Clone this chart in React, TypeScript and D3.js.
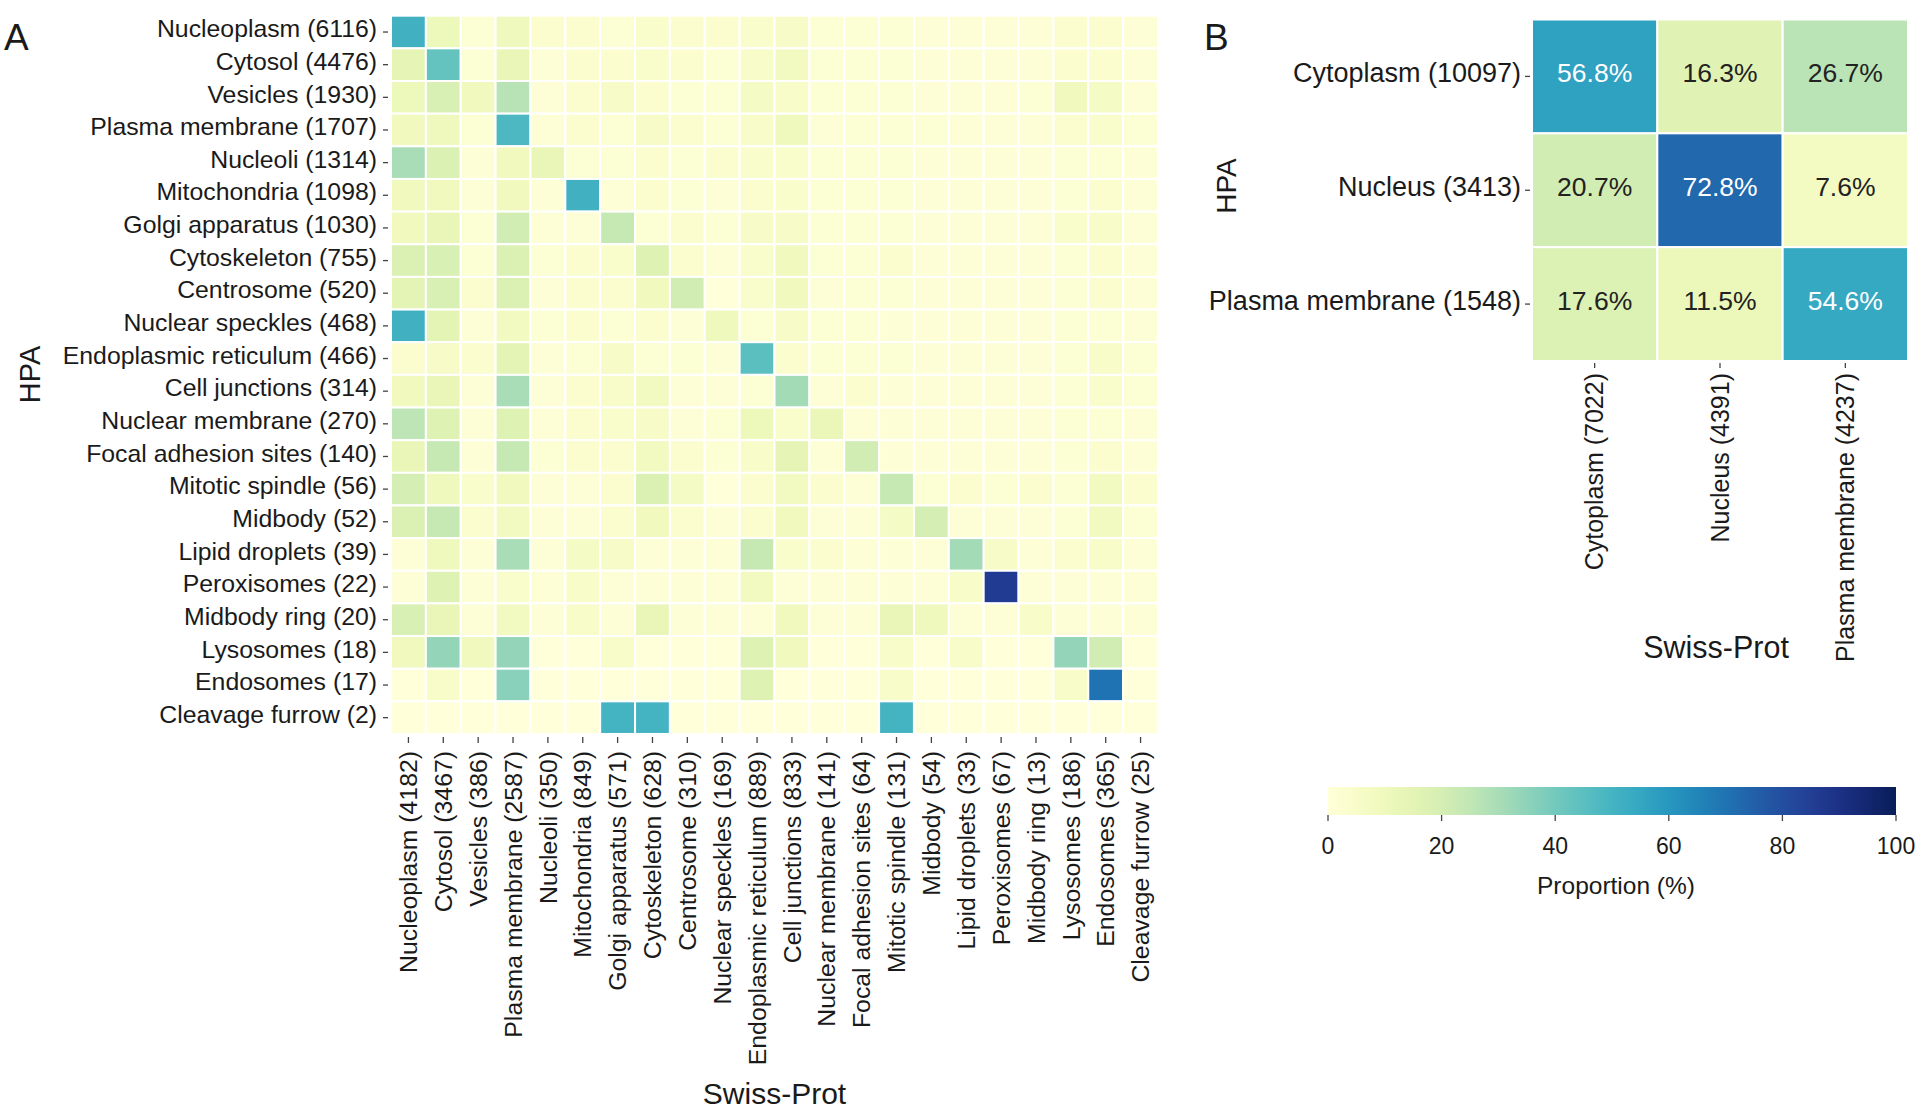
import React from 'react';
import * as d3 from 'd3';

const hpaRowsA = [
  'Nucleoplasm (6116)', 'Cytosol (4476)', 'Vesicles (1930)', 'Plasma membrane (1707)',
  'Nucleoli (1314)', 'Mitochondria (1098)', 'Golgi apparatus (1030)', 'Cytoskeleton (755)',
  'Centrosome (520)', 'Nuclear speckles (468)', 'Endoplasmic reticulum (466)', 'Cell junctions (314)',
  'Nuclear membrane (270)', 'Focal adhesion sites (140)', 'Mitotic spindle (56)', 'Midbody (52)',
  'Lipid droplets (39)', 'Peroxisomes (22)', 'Midbody ring (20)', 'Lysosomes (18)',
  'Endosomes (17)', 'Cleavage furrow (2)'
];

const swissColsA = [
  'Nucleoplasm (4182)', 'Cytosol (3467)', 'Vesicles (386)', 'Plasma membrane (2587)',
  'Nucleoli (350)', 'Mitochondria (849)', 'Golgi apparatus (571)', 'Cytoskeleton (628)',
  'Centrosome (310)', 'Nuclear speckles (169)', 'Endoplasmic reticulum (889)', 'Cell junctions (833)',
  'Nuclear membrane (141)', 'Focal adhesion sites (64)', 'Mitotic spindle (131)', 'Midbody (54)',
  'Lipid droplets (33)', 'Peroxisomes (67)', 'Midbody ring (13)', 'Lysosomes (186)',
  'Endosomes (365)', 'Cleavage furrow (25)'
];

// proportion (%) of HPA row proteins annotated with each Swiss-Prot column location
const proportionA = [
  [51, 11, 2, 10, 3, 3, 2, 4, 3, 3, 4, 6, 2, 2, 2, 1, 1, 1, 1, 3, 3, 1],
  [14, 43, 2, 13, 1, 3, 3, 4, 3, 2, 5, 8, 2, 2, 2, 1, 1, 1, 1, 3, 3, 1],
  [11, 19, 9, 27, 1, 3, 6, 3, 2, 2, 7, 5, 2, 2, 2, 1, 1, 1, 2, 9, 7, 1],
  [9, 10, 2, 48, 1, 3, 2, 6, 3, 2, 5, 10, 1, 2, 2, 2, 1, 1, 1, 3, 4, 2],
  [30, 18, 1, 9, 13, 2, 2, 3, 2, 3, 4, 4, 2, 2, 2, 1, 1, 1, 1, 2, 2, 1],
  [9, 9, 1, 9, 1, 51, 1, 3, 2, 1, 3, 4, 2, 2, 2, 1, 1, 1, 1, 2, 3, 1],
  [9, 13, 2, 21, 1, 1, 24, 2, 3, 2, 6, 6, 2, 2, 2, 1, 1, 1, 1, 4, 5, 1],
  [18, 19, 2, 18, 2, 3, 4, 17, 3, 1, 4, 9, 2, 2, 3, 1, 1, 1, 1, 2, 3, 1],
  [15, 19, 3, 18, 1, 3, 3, 9, 21, 0, 4, 9, 1, 2, 2, 1, 1, 1, 1, 2, 3, 1],
  [51, 15, 1, 8, 2, 3, 2, 3, 1, 10, 2, 6, 2, 2, 1, 1, 1, 1, 1, 2, 2, 1],
  [3, 6, 3, 15, 1, 2, 6, 2, 2, 1, 45, 3, 2, 2, 2, 1, 1, 1, 1, 2, 5, 2],
  [9, 13, 1, 30, 1, 3, 5, 8, 1, 1, 2, 31, 1, 3, 1, 1, 1, 1, 1, 2, 4, 2],
  [26, 17, 1, 17, 1, 3, 4, 6, 1, 2, 11, 4, 12, 1, 1, 1, 1, 1, 1, 2, 2, 1],
  [13, 24, 1, 24, 2, 3, 3, 8, 3, 2, 5, 14, 1, 21, 1, 1, 1, 1, 1, 2, 3, 1],
  [20, 10, 4, 9, 1, 1, 3, 18, 7, 0, 3, 8, 3, 1, 24, 2, 3, 2, 3, 2, 8, 3],
  [18, 24, 3, 8, 1, 1, 3, 9, 3, 1, 3, 9, 1, 1, 7, 20, 1, 1, 1, 2, 8, 2],
  [1, 10, 1, 30, 1, 7, 6, 1, 1, 1, 24, 4, 3, 1, 1, 1, 31, 6, 1, 3, 5, 1],
  [1, 17, 1, 4, 1, 5, 1, 1, 1, 1, 8, 1, 1, 1, 1, 1, 5, 86, 1, 1, 1, 1],
  [19, 13, 1, 8, 1, 5, 1, 13, 1, 1, 1, 9, 1, 1, 13, 10, 1, 1, 5, 1, 1, 1],
  [9, 34, 9, 34, 0, 0, 5, 0, 0, 0, 17, 9, 0, 0, 5, 0, 5, 0, 0, 34, 21, 0],
  [0, 5, 0, 36, 0, 0, 0, 0, 0, 0, 17, 0, 0, 0, 5, 0, 0, 0, 0, 5, 70, 0],
  [0, 0, 0, 0, 0, 0, 50, 50, 0, 0, 0, 0, 0, 0, 50, 0, 0, 0, 0, 0, 0, 0]
];

const hpaRowsB = ['Cytoplasm (10097)', 'Nucleus (3413)', 'Plasma membrane (1548)'];
const swissColsB = ['Cytoplasm (7022)', 'Nucleus (4391)', 'Plasma membrane (4237)'];
const proportionB = [
  [56.8, 16.3, 26.7],
  [20.7, 72.8, 7.6],
  [17.6, 11.5, 54.6]
];

const colorbarTicks = [0, 20, 40, 60, 80, 100];

const FONT = "'Liberation Sans', Arial, Helvetica, sans-serif";
const TXT = '#1a1a1a';
const TICK = '#444';

export default function App() {
  const color = d3.scaleSequential(d3.interpolateYlGnBu).domain([0, 100]);

  const xA = d3.scaleBand<string>().domain(swissColsA).range([391, 1158]);
  const yA = d3.scaleBand<string>().domain(hpaRowsA).range([15.7, 734]);
  const xB = d3.scaleBand<string>().domain(swissColsB).range([1532, 1908]);
  const yB = d3.scaleBand<string>().domain(hpaRowsB).range([19.5, 361]);
  const cb = d3.scaleLinear().domain([0, 100]).range([1328, 1896]);

  const gradStops = d3.range(0, 1.0001, 0.05);

  return (
    <svg
      width={1920}
      height={1111}
      style={{ position: 'absolute', left: 0, top: 0, background: '#fff' }}
      fontFamily={FONT}
    >
      <defs>
        <linearGradient id="cbgrad" x1="0" x2="1" y1="0" y2="0">
          {gradStops.map((t) => (
            <stop key={t} offset={`${t * 100}%`} stopColor={d3.interpolateYlGnBu(t)} />
          ))}
        </linearGradient>
      </defs>

      {/* Panel A */}
      <text x={4} y={50} fontSize={37} fill={TXT}>A</text>
      <g>
        {proportionA.map((row, i) =>
          row.map((v, j) => (
            <rect
              key={`a-${i}-${j}`}
              x={xA(swissColsA[j])!}
              y={yA(hpaRowsA[i])!}
              width={xA.bandwidth()}
              height={yA.bandwidth()}
              fill={color(v)}
              stroke="#fff"
              strokeWidth={2}
            />
          ))
        )}
      </g>
      {hpaRowsA.map((r) => {
        const cy = yA(r)! + yA.bandwidth() / 2;
        return (
          <g key={`ra-${r}`}>
            <line x1={383} x2={388} y1={cy} y2={cy} stroke={TICK} strokeWidth={1.3} />
            <text x={377} y={cy} dy="0.21em" textAnchor="end" fontSize={24.8} fill={TXT}>{r}</text>
          </g>
        );
      })}
      {swissColsA.map((c) => {
        const cx = xA(c)! + xA.bandwidth() / 2;
        return (
          <g key={`ca-${c}`}>
            <line x1={cx} x2={cx} y1={737} y2={743} stroke={TICK} strokeWidth={1.3} />
            <text
              transform={`translate(${cx},751) rotate(-90)`}
              dy="0.35em"
              textAnchor="end"
              fontSize={24.8}
              fill={TXT}
            >
              {c}
            </text>
          </g>
        );
      })}
      <text x={774.5} y={1104} textAnchor="middle" fontSize={30} fill={TXT}>Swiss-Prot</text>
      <text transform="translate(40,374.5) rotate(-90)" textAnchor="middle" fontSize={29} fill={TXT}>HPA</text>

      {/* Panel B */}
      <text x={1204} y={50} fontSize={37} fill={TXT}>B</text>
      <g>
        {proportionB.map((row, i) =>
          row.map((v, j) => (
            <g key={`b-${i}-${j}`}>
              <rect
                x={xB(swissColsB[j])!}
                y={yB(hpaRowsB[i])!}
                width={xB.bandwidth()}
                height={yB.bandwidth()}
                fill={color(v)}
                stroke="#fff"
                strokeWidth={2}
              />
              <text
                x={xB(swissColsB[j])! + xB.bandwidth() / 2}
                y={yB(hpaRowsB[i])! + yB.bandwidth() / 2}
                dy="0.22em"
                textAnchor="middle"
                fontSize={26.5}
                fill={v > 50 ? '#ffffff' : '#222'}
              >
                {`${v.toFixed(1)}%`}
              </text>
            </g>
          ))
        )}
      </g>
      {hpaRowsB.map((r) => {
        const cy = yB(r)! + yB.bandwidth() / 2;
        return (
          <g key={`rb-${r}`}>
            <line x1={1525} x2={1530} y1={cy} y2={cy} stroke={TICK} strokeWidth={1.3} />
            <text x={1521} y={cy} dy="0.22em" textAnchor="end" fontSize={27} fill={TXT}>{r}</text>
          </g>
        );
      })}
      {swissColsB.map((c) => {
        const cx = xB(c)! + xB.bandwidth() / 2;
        return (
          <g key={`cb-${c}`}>
            <line x1={cx} x2={cx} y1={363} y2={368} stroke={TICK} strokeWidth={1.3} />
            <text
              transform={`translate(${cx},373) rotate(-90)`}
              dy="0.35em"
              textAnchor="end"
              fontSize={25}
              fill={TXT}
            >
              {c}
            </text>
          </g>
        );
      })}
      <text x={1716} y={658} textAnchor="middle" fontSize={30.5} fill={TXT}>Swiss-Prot</text>
      <text transform="translate(1236,186) rotate(-90)" textAnchor="middle" fontSize={28} fill={TXT}>HPA</text>

      {/* Colorbar */}
      <rect x={cb(0)} y={787} width={cb(100) - cb(0)} height={28} fill="url(#cbgrad)" />
      {colorbarTicks.map((t) => (
        <g key={`cbt-${t}`}>
          <line x1={cb(t)} x2={cb(t)} y1={815} y2={821} stroke={TICK} strokeWidth={1.3} />
          <text x={cb(t)} y={846} dy="0.35em" textAnchor="middle" fontSize={23} fill={TXT}>{t}</text>
        </g>
      ))}
      <text x={1616} y={885} dy="0.35em" textAnchor="middle" fontSize={24.5} fill={TXT}>Proportion (%)</text>
    </svg>
  );
}
